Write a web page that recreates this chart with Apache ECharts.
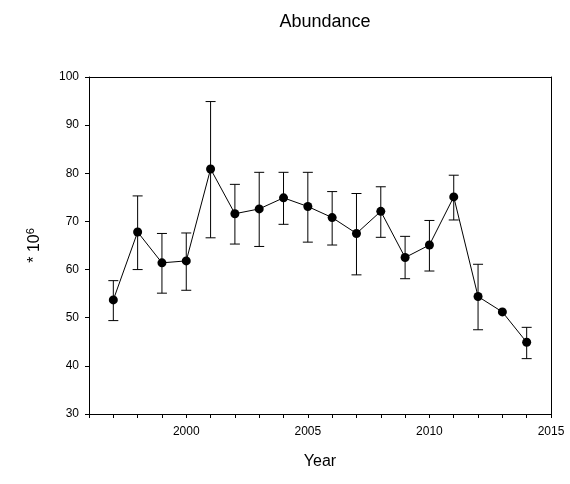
<!DOCTYPE html>
<html lang="en">
<head>
    <meta charset="UTF-8">
    <title>Abundance</title>
    <script src="https://cdn.jsdelivr.net/npm/echarts@6/dist/echarts.min.js"></script>
    <style>html,body{margin:0;background:#fff}#chart{width:570px;height:484px}</style>
</head>
<body>
<div id="chart"></div>
<script type="text/javascript">
var years = [1997,1998,1999,2000,2001,2002,2003,2004,2005,2006,2007,2008,2009,2010,2011,2012,2013,2014];
var values = [53.7,67.8,61.4,61.8,80.9,71.6,72.6,74.9,73.1,70.8,67.5,72.1,62.5,65.1,75.1,54.4,51.2,44.9];
var upper = [57.7,75.3,67.5,67.6,94.9,77.7,80.2,80.2,80.2,76.2,75.8,77.2,66.9,70.2,79.6,61.1,null,48.0];
var lower = [49.4,60.0,55.1,55.7,66.6,65.3,64.8,69.4,65.7,65.1,58.9,66.7,58.1,59.7,70.3,47.5,null,41.5];

var lineData = years.map(function (y, i) { return [y, values[i]]; });
var errData = [];
for (var i = 0; i < years.length; i++) {
    if (upper[i] != null) errData.push([years[i], lower[i], upper[i]]);
}

var font = 'Liberation Sans, Arial, sans-serif';
var chart = echarts.init(document.getElementById('chart'));
var option = {
    animation: false,
    title: {
        text: 'Abundance', left: 320, top: 8, textAlign: 'center',
        textStyle: { fontFamily: font, fontSize: 18, fontWeight: 'normal', color: '#000' }
    },
    grid: { left: 89, right: 19, top: 77, bottom: 70 },
    xAxis: [{
        type: 'value', min: 1996, max: 2015, interval: 1,
        name: 'Year', nameLocation: 'middle', nameGap: 40,
        nameTextStyle: { fontFamily: font, fontSize: 16, color: '#000' },
        axisLine: { lineStyle: { color: '#000' } },
        axisTick: { length: 4, lineStyle: { color: '#000' } },
        axisLabel: {
            fontFamily: font, fontSize: 12, color: '#000', margin: 12,
            formatter: function (v) { return v % 5 === 0 ? String(v) : ''; }
        },
        splitLine: { show: false }
    }, {
        type: 'value', min: 1996, max: 2015, position: 'top',
        axisLine: { show: true, lineStyle: { color: '#000' } },
        axisTick: { show: false }, axisLabel: { show: false }, splitLine: { show: false }
    }],
    yAxis: [{
        type: 'value', min: 30, max: 100, interval: 10,
        name: '{a|* 10}{s|6}', nameLocation: 'middle', nameGap: 45,
        nameTextStyle: {
            rich: {
                a: { fontFamily: font, fontSize: 16, color: '#000' },
                s: { fontFamily: font, fontSize: 11, color: '#000', verticalAlign: 'top', padding: [0, 0, 8, 0] }
            }
        },
        axisLine: { show: true, lineStyle: { color: '#000' } },
        axisTick: { show: true, length: 4, lineStyle: { color: '#000' } },
        axisLabel: { fontFamily: font, fontSize: 12, color: '#000', margin: 10 },
        splitLine: { show: false }
    }, {
        type: 'value', min: 30, max: 100, position: 'right',
        axisLine: { show: true, lineStyle: { color: '#000' } },
        axisTick: { show: false }, axisLabel: { show: false }, splitLine: { show: false }
    }],
    series: [{
        type: 'custom',
        data: errData,
        z: 1,
        renderItem: function (params, api) {
            var x = api.value(0);
            var lo = api.coord([x, api.value(1)]);
            var hi = api.coord([x, api.value(2)]);
            var w = 5;
            var st = { stroke: '#000', lineWidth: 1 };
            return {
                type: 'group',
                children: [
                    { type: 'line', shape: { x1: lo[0], y1: lo[1], x2: hi[0], y2: hi[1] }, style: st },
                    { type: 'line', shape: { x1: lo[0] - w, y1: lo[1], x2: lo[0] + w, y2: lo[1] }, style: st },
                    { type: 'line', shape: { x1: hi[0] - w, y1: hi[1], x2: hi[0] + w, y2: hi[1] }, style: st }
                ]
            };
        }
    }, {
        type: 'line',
        data: lineData,
        z: 2,
        symbol: 'circle', symbolSize: 9,
        itemStyle: { color: '#000' },
        lineStyle: { color: '#000', width: 1 }
    }]
};
chart.setOption(option);
</script>
</body>
</html>
